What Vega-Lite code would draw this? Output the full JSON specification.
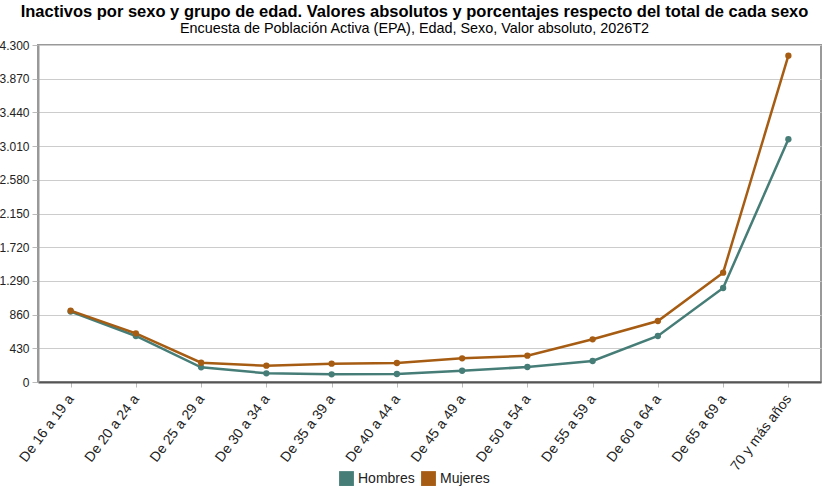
{
  "$schema": "https://vega.github.io/schema/vega-lite/v6.json",
  "autosize": {"type": "none"},
  "width": 783,
  "height": 337,
  "padding": {"left": 38, "top": 45, "right": 8, "bottom": 121},
  "title": {
    "text": "Inactivos por sexo y grupo de edad. Valores absolutos y porcentajes respecto del total de cada sexo",
    "subtitle": "Encuesta de Población Activa (EPA), Edad, Sexo, Valor absoluto, 2026T2",
    "anchor": "middle",
    "dx": -15,
    "offset": 4,
    "font": "Liberation Sans",
    "fontSize": 16.5,
    "fontWeight": "bold",
    "color": "#000000",
    "subtitleFont": "Liberation Sans",
    "subtitleFontSize": 14.4,
    "subtitleColor": "#000000",
    "subtitlePadding": 1
  },
  "data": {
    "values": [
      {"edad": "De 16 a 19 a", "sexo": "Hombres", "valor": 900},
      {"edad": "De 20 a 24 a", "sexo": "Hombres", "valor": 587},
      {"edad": "De 25 a 29 a", "sexo": "Hombres", "valor": 187},
      {"edad": "De 30 a 34 a", "sexo": "Hombres", "valor": 111},
      {"edad": "De 35 a 39 a", "sexo": "Hombres", "valor": 98},
      {"edad": "De 40 a 44 a", "sexo": "Hombres", "valor": 102},
      {"edad": "De 45 a 49 a", "sexo": "Hombres", "valor": 144},
      {"edad": "De 50 a 54 a", "sexo": "Hombres", "valor": 191},
      {"edad": "De 55 a 59 a", "sexo": "Hombres", "valor": 268},
      {"edad": "De 60 a 64 a", "sexo": "Hombres", "valor": 587},
      {"edad": "De 65 a 69 a", "sexo": "Hombres", "valor": 1199},
      {"edad": "70 y más años", "sexo": "Hombres", "valor": 3097},
      {"edad": "De 16 a 19 a", "sexo": "Mujeres", "valor": 910},
      {"edad": "De 20 a 24 a", "sexo": "Mujeres", "valor": 621},
      {"edad": "De 25 a 29 a", "sexo": "Mujeres", "valor": 246},
      {"edad": "De 30 a 34 a", "sexo": "Mujeres", "valor": 208},
      {"edad": "De 35 a 39 a", "sexo": "Mujeres", "valor": 234},
      {"edad": "De 40 a 44 a", "sexo": "Mujeres", "valor": 242},
      {"edad": "De 45 a 49 a", "sexo": "Mujeres", "valor": 302},
      {"edad": "De 50 a 54 a", "sexo": "Mujeres", "valor": 336},
      {"edad": "De 55 a 59 a", "sexo": "Mujeres", "valor": 545},
      {"edad": "De 60 a 64 a", "sexo": "Mujeres", "valor": 778},
      {"edad": "De 65 a 69 a", "sexo": "Mujeres", "valor": 1395},
      {"edad": "70 y más años", "sexo": "Mujeres", "valor": 4164}
    ]
  },
  "encoding": {
    "x": {
      "field": "edad",
      "type": "nominal",
      "sort": null,
      "title": null,
      "scale": {"paddingInner": 0, "paddingOuter": 0},
      "axis": {
        "labelAngle": -53,
        "labelFont": "Liberation Sans",
        "labelFontSize": 14,
        "labelColor": "#222222",
        "labelLimit": 92,
        "labelPadding": 9,
        "bandPosition": 0,
        "tickColor": "#bbbbbb",
        "tickSize": 5,
        "domainColor": "#555555",
        "domainWidth": 2,
        "grid": false
      }
    },
    "y": {
      "field": "valor",
      "type": "quantitative",
      "title": null,
      "scale": {"domain": [0, 4300], "nice": false},
      "axis": {
        "values": [0, 430, 860, 1290, 1720, 2150, 2580, 3010, 3440, 3870, 4300],
        "labelExpr": "replace(format(datum.value, ','), ',', '.')",
        "labelFont": "Liberation Sans",
        "labelFontSize": 12,
        "labelColor": "#222222",
        "labelPadding": 3,
        "tickColor": "#bbbbbb",
        "tickSize": 6,
        "domainColor": "#999999",
        "domainWidth": 2,
        "gridColor": "#cccccc",
        "gridWidth": 1
      }
    },
    "color": {
      "field": "sexo",
      "type": "nominal",
      "title": null,
      "scale": {"domain": ["Hombres", "Mujeres"], "range": ["#467d77", "#a65c12"]},
      "legend": {
        "orient": "none",
        "legendX": 301,
        "legendY": 426,
        "direction": "horizontal",
        "symbolType": "square",
        "symbolSize": 220,
        "symbolStrokeWidth": 0,
        "symbolOpacity": 1,
        "labelFont": "Liberation Sans",
        "labelFontSize": 14,
        "labelColor": "#222222",
        "columnPadding": 6
      }
    }
  },
  "layer": [
    {"mark": {"type": "line", "strokeWidth": 2.5}},
    {"mark": {"type": "circle", "size": 40, "opacity": 1}}
  ],
  "config": {
    "view": {"stroke": "#999999", "strokeWidth": 2},
    "font": "Liberation Sans"
  }
}
